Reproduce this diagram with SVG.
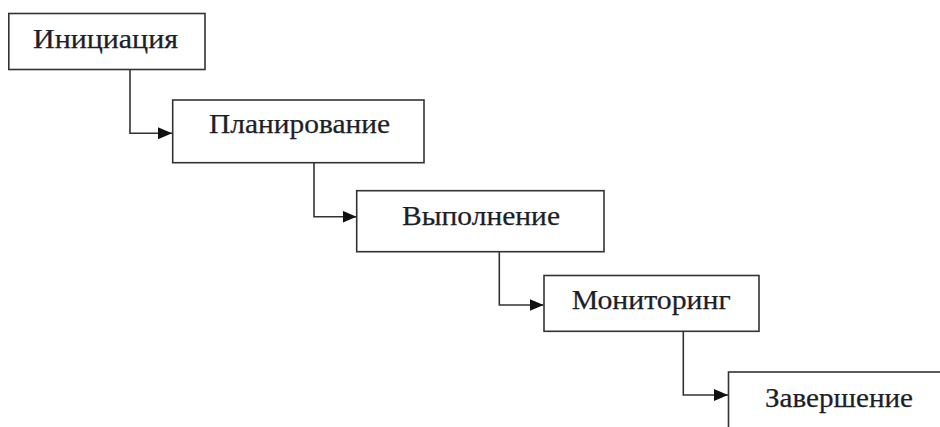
<svg xmlns="http://www.w3.org/2000/svg" width="940" height="427" viewBox="0 0 940 427">
<style>
.box{fill:#fff;stroke:#333;stroke-width:1.6}
.lbl{font-family:"Liberation Serif","Times New Roman",serif;font-size:28px;fill:#1e1e28;stroke:#1e1e28;stroke-width:0.25;text-anchor:middle}
.conn{fill:none;stroke:#333;stroke-width:1.6}
</style>
<defs>
<marker id="arr" viewBox="0 0 14 12" refX="14" refY="6" markerWidth="14" markerHeight="12" markerUnits="userSpaceOnUse" orient="auto">
<path d="M0,0 L14,6 L0,12 Z" fill="#111"/>
</marker>
</defs>
<rect width="940" height="427" fill="#fff"/>
<g id="connectors">
<path class="conn" d="M130,69.5 V133.3 H172" marker-end="url(#arr)"/>
<path class="conn" d="M314,162.7 V216.7 H356.5" marker-end="url(#arr)"/>
<path class="conn" d="M499.3,251.7 V305 H543.5" marker-end="url(#arr)"/>
<path class="conn" d="M683.3,331 V395 H728" marker-end="url(#arr)"/>
</g>
<g id="node-initiation">
<rect class="box" x="8.8" y="13.5" width="196.2" height="56"/>
<text class="lbl" x="105.5" y="48" textLength="145" lengthAdjust="spacingAndGlyphs">Инициация</text>
</g>
<g id="node-planning">
<rect class="box" x="172.7" y="100" width="251.3" height="62.7"/>
<text class="lbl" x="299.5" y="133" textLength="181" lengthAdjust="spacingAndGlyphs">Планирование</text>
</g>
<g id="node-execution">
<rect class="box" x="356.7" y="190.7" width="247.3" height="61"/>
<text class="lbl" x="481" y="225" textLength="158" lengthAdjust="spacingAndGlyphs">Выполнение</text>
</g>
<g id="node-monitoring">
<rect class="box" x="544" y="275.5" width="215" height="55.8"/>
<text class="lbl" x="651.2" y="309" textLength="159" lengthAdjust="spacingAndGlyphs">Мониторинг</text>
</g>
<g id="node-completion">
<rect class="box" x="728.5" y="372" width="240" height="80"/>
<text class="lbl" x="839" y="406.7" textLength="148" lengthAdjust="spacingAndGlyphs">Завершение</text>
</g>
</svg>
